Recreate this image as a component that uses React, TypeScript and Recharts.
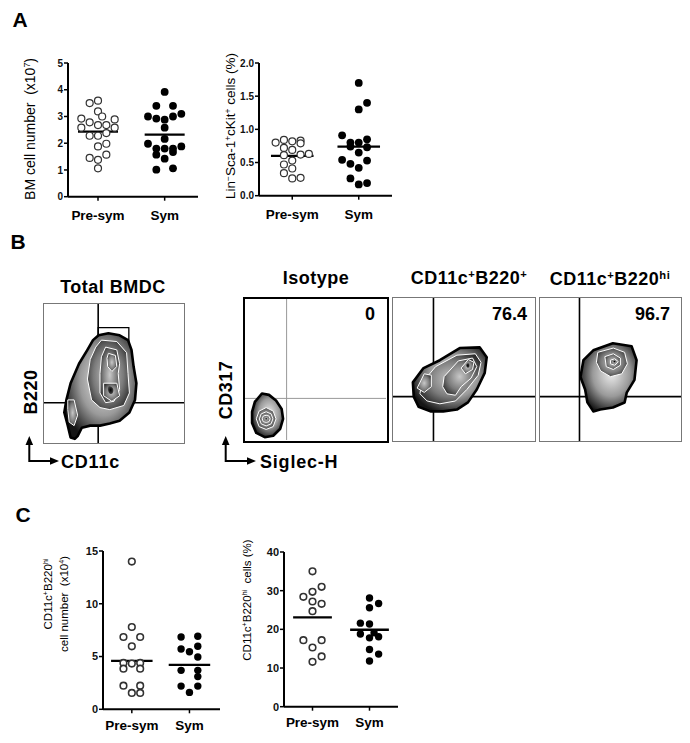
import React from 'react';
import { ScatterChart, Scatter, XAxis, YAxis, ReferenceLine, ReferenceArea } from 'recharts';

const FONT = '"Liberation Sans", Arial, Helvetica, sans-serif';

const groups = ['Pre-sym', 'Sym'];

// ---- Panel A (left): BM cell number (x10^7)
const bmPre = [3.5, 3.59, 3.19, 3.0, 2.92, 2.89, 2.78, 2.68, 2.68, 2.58, 2.58, 2.38, 2.28, 2.28, 1.98, 1.88, 1.57, 1.45, 1.38, 1.06];
const bmPreSlot = [-1, 0, 0, 0.5, -2, 2, -1, 0, 1, -2, 2, 1, -1, 0, 1, 0, 1, -1, 0, 0];
const bmSym = [3.92, 3.4, 3.4, 3.1, 3.0, 2.92, 2.88, 3.0, 2.58, 2.16, 1.98, 1.88, 1.8, 1.8, 1.8, 1.57, 1.67, 1.42, 1.01, 1.06];
const bmSymSlot = [0, -1, 1, 2, -2, -1, 0, 1, 0, 0, -2, 2, -1, 0, 1, -1, 1, 0, -1, 1];
const bmMean = [2.43, 2.32];
const bmTicks = [0, 1, 2, 3, 4, 5];

// ---- Panel A (right): Lin- Sca-1+ cKit+ cells (%)
const lskPre = [0.8, 0.84, 0.82, 0.83, 0.79, 0.72, 0.69, 0.61, 0.62, 0.63, 0.53, 0.47, 0.41, 0.34, 0.26, 0.27];
const lskPreSlot = [-2, -1, 0, 1, 1, -1, 0, -1, 1, 2, 0, -1, 0, -1, 0, 1];
const lskSym = [1.7, 1.4, 1.3, 0.91, 0.8, 0.8, 0.85, 0.74, 0.73, 0.65, 0.54, 0.53, 0.48, 0.42, 0.26, 0.17, 0.19];
const lskSymSlot = [0, 1, 0, -2, -1, 0, 1, -1, 1, 0, -2, 1, -1, 0, -1, 0, 1];
const lskMean = [0.6, 0.74];
const lskTicks = [0, 0.5, 1, 1.5, 2];

// ---- Panel C (left): CD11c+B220hi cell number (x10^4)
const pdcNumPre = [14.0, 7.8, 6.85, 6.85, 5.97, 4.39, 4.33, 4.39, 3.85, 3.85, 2.24, 2.24, 1.55, 1.55];
const pdcNumPreSlot = [0, 0, -1, 1, 0, -1, 0, 1, -1, 1, -1, 1, 0, 1];
const pdcNumSym = [6.85, 6.92, 5.72, 5.97, 5.46, 4.96, 3.69, 3.69, 3.1, 2.2, 2.2, 1.6];
const pdcNumSymSlot = [-1, 1, -1, 1, 0, 1, -1, 1, 1, -1, 1, 0];
const pdcNumMean = [4.58, 4.2];
const pdcNumTicks = [0, 5, 10, 15];

// ---- Panel C (right): CD11c+B220hi cells (%)
const pdcPctPre = [35.0, 31.0, 29.7, 28.4, 27.2, 26.6, 24.7, 17.2, 17.2, 15.3, 13.0, 11.6];
const pdcPctPreSlot = [0, 1, 0, -1, 0, 1, 0, -1, 1, 0, 1, 0];
const pdcPctSym = [28.1, 26.7, 25.6, 21.6, 21.4, 18.8, 17.8, 18.1, 19.1, 14.8, 13.6, 11.8];
const pdcPctSymSlot = [0, 1, 0, -1, 0, -1, 0, 1, 0.5, 0, 1, 0];
const pdcPctMean = [23.1, 19.9];
const pdcPctTicks = [0, 10, 20, 30, 40];

// ---- Panel B: flow cytometry contours (percent of plot range)
const flowTitles = ['Total BMDC', 'Isotype', 'CD11c+B220+', 'CD11c+B220hi'];
const flowPercents = ['', '0', '76.4', '96.7'];
const gateX = [38.7, 29.5, 28.5, 28];
const gateY = [29, 29.5, 31, 31];
const bmdcRectGate = [38.7, 60.6, 53, 83];

const bmdcOuter = [[39, 77.5], [46, 79], [54, 77.5], [60, 74], [62.5, 67], [64, 55], [66, 43], [65, 31], [61, 22], [54, 16], [47, 14], [40, 12.5], [33, 12.5], [27, 11], [24, 5], [22, 3], [19, 4], [17, 12.5], [14.5, 22], [16, 31], [19, 43], [25, 57], [31, 67], [35, 74]];
const bmdcC2 = [[41, 74], [52, 73], [59, 65], [60, 50], [61, 36], [57, 27], [47, 24], [40, 25.5], [34, 31], [31, 46], [33, 60], [37, 69]];
const bmdcC3 = [[44, 69], [52, 67], [54, 57], [53, 50], [54, 38.5], [50, 30], [44, 29], [40, 36], [40, 50], [41, 62]];
const bmdcC4 = [[46, 64.5], [51, 63], [52, 55], [48.5, 51.5], [45.5, 55], [45, 61]];
const bmdcC5 = [[42.6, 43], [52, 43], [54, 34], [48.5, 30], [42.6, 34]];
const bmdcLeft = [[17, 31], [21.5, 31], [24, 20], [21.5, 12.5], [18, 15], [17, 24]];
const bmdcPeak = [[45, 42], [50, 40], [49.5, 35], [46, 35]];

const isoOuter = [[12, 33], [17, 32], [22, 28], [26, 22], [27, 15], [25, 8], [20, 3], [14, 2], [8, 5], [5, 12], [5, 20], [7, 27]];
const isoC2 = [[15, 23], [20, 20.5], [22, 15], [20, 9.5], [15, 7.5], [10, 9.5], [8, 15], [10, 20.5]];
const isoC3 = [[15, 20], [18.5, 18.5], [19.8, 15], [18.5, 11.5], [15, 10], [11.5, 11.5], [10.2, 15], [11.5, 18.5]];
const isoC4 = [[15, 17.5], [17, 17], [17.8, 15], [17, 13], [15, 12.5], [13, 13], [12.2, 15], [13, 17]];
const isoPeak = [[15, 16], [16, 15], [15, 14], [14, 15]];

const b2Outer = [[14, 41], [21.5, 51], [33, 56.5], [47, 65], [61, 65.5], [66, 58.6], [64.6, 47.6], [59, 36], [52.8, 27], [45, 22], [35.4, 20.7], [26.4, 20.7], [18, 24], [14.6, 31]];
const b2C2 = [[20, 40], [30, 52], [45, 60], [58, 61], [62, 55], [60, 46], [52, 36], [44, 28], [33, 26], [24, 28], [19, 33]];
const b2C3 = [[36, 45], [46, 56], [56, 58], [59, 52], [55, 44], [48, 38], [44, 32], [38, 33], [35, 38]];
const b2C4 = [[48, 51], [53, 57], [57, 55], [56, 50], [51, 47]];
const b2Left = [[17, 37], [22, 47], [27, 46], [27, 38], [22, 34]];
const b2Peak = [[51, 54], [54, 55], [54, 51], [52, 51]];

const bhOuter = [[30.8, 56.5], [37.8, 63.4], [51.7, 68.3], [65, 66.2], [68.5, 56.5], [67, 42.8], [61.5, 33.8], [60, 26.9], [51.7, 23.4], [42.7, 22], [37.8, 20.7], [33.6, 27], [32, 36], [28.7, 44.8]];
const bhC2 = [[41, 62], [52, 65], [60, 62], [62, 54], [58, 47], [50, 45], [43, 49], [40, 55]];
const bhC3 = [[46, 59], [52, 61], [57, 58], [57, 53], [52, 50], [47, 52]];
const bhC4 = [[50, 56.5], [53, 57.5], [55.5, 55.5], [53, 53], [50, 54]];
const bhPeak = [[51.5, 56], [53.5, 56.5], [54, 55], [52.5, 54.5]];

const Sup = ({ children }: { children: React.ReactNode }) => (
  <span style={{ fontSize: '0.62em', verticalAlign: '0.55em', lineHeight: 0 }}>{children}</span>
);

function Label({ cx, cy, size, bold, rotate, align, spacing, children }: any) {
  const tx = align === 'left' ? '0' : align === 'right' ? '-100%' : '-50%';
  return (
    <div
      style={{
        position: 'absolute',
        left: cx,
        top: cy,
        transform: rotate ? 'translate(-50%,-50%) rotate(-90deg)' : `translate(${tx},-50%)`,
        fontFamily: FONT,
        fontSize: size,
        fontWeight: bold ? 700 : 400,
        lineHeight: 1,
        whiteSpace: 'nowrap',
        color: '#000',
        letterSpacing: spacing || 0,
      }}
    >
      {children}
    </div>
  );
}

function DotPlot(props: any) {
  const { x, y, w, h, xDomain, yDomain, yTicks, dec, pre, preSlot, sym, symSlot, means, step, half, r, sw, yFont, xMargin } = props;
  const YW = 30, MT = 8, MR = 6, XH = 32;
  const preData = pre.map((v: number, i: number) => ({ x: 1 + preSlot[i] * step, y: v }));
  const symData = sym.map((v: number, i: number) => ({ x: 2 + symSlot[i] * step, y: v }));
  return (
    <div style={{ position: 'absolute', left: x - YW, top: y - MT }}>
      <ScatterChart width={YW + w + MR} height={MT + h + XH} margin={{ top: MT, right: MR, bottom: 0, left: 0 }}>
        <XAxis
          type="number"
          dataKey="x"
          domain={xDomain}
          ticks={[1, 2]}
          interval={0}
          tickFormatter={(v: number) => groups[Math.round(v) - 1]}
          allowDataOverflow
          height={XH}
          axisLine={{ stroke: '#000', strokeWidth: 2 }}
          tickLine={{ stroke: '#000', strokeWidth: 1.5 }}
          tickSize={4}
          tickMargin={xMargin}
          tick={{ fill: '#000', fontSize: 13.5, fontWeight: 700, fontFamily: FONT }}
        />
        <YAxis
          type="number"
          dataKey="y"
          domain={yDomain}
          ticks={yTicks}
          interval={0}
          tickFormatter={(v: number) => v.toFixed(dec)}
          allowDataOverflow
          width={YW}
          axisLine={{ stroke: '#000', strokeWidth: 2 }}
          tickLine={{ stroke: '#000', strokeWidth: 1.5 }}
          tickSize={4}
          tickMargin={1}
          tick={{ fill: '#111', fontSize: yFont, fontWeight: 700, fontFamily: FONT }}
        />
        <Scatter
          data={preData}
          isAnimationActive={false}
          shape={(p: any) => <circle cx={p.cx} cy={p.cy} r={r} fill="#fff" stroke="#333" strokeWidth={sw} />}
        />
        <Scatter
          data={symData}
          isAnimationActive={false}
          shape={(p: any) => <circle cx={p.cx} cy={p.cy} r={r + 0.4} fill="#000" stroke="none" />}
        />
        <ReferenceLine segment={[{ x: 1 - half, y: means[0] }, { x: 1 + half, y: means[0] }]} stroke="#000" strokeWidth={2.3} ifOverflow="visible" />
        <ReferenceLine segment={[{ x: 2 - half, y: means[1] }, { x: 2 + half, y: means[1] }]} stroke="#000" strokeWidth={2.3} ifOverflow="visible" />
      </ScatterChart>
    </div>
  );
}

function FlowPlot(props: any) {
  const { x, y, w, h, bw, bc, gx, gy, gc, gw, contours, peaks, rect } = props;
  const iw = w - 2 * bw, ih = h - 2 * bw;
  const toPts = (c: number[][]) => c.map(([px, py]) => ({ x: px, y: py }));
  return (
    <div style={{ position: 'absolute', left: x, top: y, width: w, height: h, border: `${bw}px solid ${bc}`, boxSizing: 'border-box' }}>
      <ScatterChart width={iw} height={ih} margin={{ top: 0, right: 0, bottom: 0, left: 0 }}>
        <XAxis type="number" dataKey="x" domain={[0, 100]} hide allowDataOverflow />
        <YAxis type="number" dataKey="y" domain={[0, 100]} hide allowDataOverflow />
        {contours.map((c: number[][], i: number) => (
          <Scatter
            key={'c' + i}
            data={toPts(c)}
            isAnimationActive={false}
            line={i === 0
              ? { stroke: '#000', strokeWidth: 2.6, strokeLinejoin: 'round', fill: 'url(#zebraOuter)' }
              : { stroke: '#fff', strokeWidth: 1, strokeLinejoin: 'round', fill: 'url(#zebra)' }}
            lineType="joint"
            lineJointType="linearClosed"
            shape={() => <g />}
          />
        ))}
        {peaks.map((c: number[][], i: number) => (
          <Scatter
            key={'p' + i}
            data={toPts(c)}
            isAnimationActive={false}
            line={{ stroke: 'none', strokeWidth: 0, fill: 'url(#peak)' }}
            lineType="joint"
            lineJointType="basisClosed"
            shape={() => <g />}
          />
        ))}
        <ReferenceLine x={gx} stroke={gc} strokeWidth={gw} ifOverflow="visible" />
        <ReferenceLine y={gy} stroke={gc} strokeWidth={gw} ifOverflow="visible" />
        {rect && (
          <ReferenceArea x1={rect[0]} x2={rect[1]} y1={rect[2]} y2={rect[3]} fill="none" fillOpacity={0} stroke="#000" strokeWidth={1.3} strokeOpacity={1} ifOverflow="visible" />
        )}
      </ScatterChart>
    </div>
  );
}

export default function App() {
  return (
    <div style={{ position: 'absolute', left: 0, top: 0, width: 690, height: 743, background: '#fff', overflow: 'hidden' }}>
      <svg width={690} height={743} style={{ position: 'absolute', left: 0, top: 0 }}>
        <defs>
          <radialGradient id="zebraOuter" cx="55%" cy="45%" r="60%">
            <stop offset="0%" stopColor="#ececec" />
            <stop offset="55%" stopColor="#9a9a9a" />
            <stop offset="100%" stopColor="#151515" />
          </radialGradient>
          <radialGradient id="zebra" cx="50%" cy="50%" r="60%">
            <stop offset="0%" stopColor="#c8c8c8" />
            <stop offset="60%" stopColor="#7a7a7a" />
            <stop offset="100%" stopColor="#2a2a2a" />
          </radialGradient>
          <radialGradient id="peak" cx="50%" cy="50%" r="50%">
            <stop offset="0%" stopColor="#000" />
            <stop offset="100%" stopColor="#444" />
          </radialGradient>
        </defs>
        {/* axis arrows */}
        <path d="M29.3 444 V461 H52" fill="none" stroke="#000" strokeWidth={2} />
        <polygon points="29.3,436 25.5,445 33.1,445" fill="#000" />
        <polygon points="59,461 50,457.2 50,464.8" fill="#000" />
        <path d="M225.7 444 V461 H249" fill="none" stroke="#000" strokeWidth={2} />
        <polygon points="225.7,436 221.9,445 229.5,445" fill="#000" />
        <polygon points="256,461 247,457.2 247,464.8" fill="#000" />
      </svg>

      {/* Panel letters */}
      <Label cx={20} cy={18.5} size={21} bold>A</Label>
      <Label cx={18} cy={241} size={21} bold>B</Label>
      <Label cx={23} cy={514} size={21} bold>C</Label>

      {/* Panel A */}
      <Label cx={30} cy={129} size={14} rotate>BM cell number&nbsp;&nbsp;(x10<Sup>7</Sup>)</Label>
      <Label cx={231} cy={126} size={13.5} rotate>Lin<Sup>−</Sup>Sca-1<Sup>+</Sup>cKit<Sup>+</Sup> cells (%)</Label>
      <DotPlot x={68} y={63.3} w={130} h={133.7} xDomain={[0.55, 2.5]} yDomain={[0, 5]} yTicks={bmTicks} dec={0} xMargin={10}
        pre={bmPre} preSlot={bmPreSlot} sym={bmSym} symSlot={bmSymSlot} means={bmMean} step={0.125} half={0.3} r={3.5} sw={1.2} yFont={10} />
      <DotPlot x={259} y={63.3} w={133} h={132.7} xDomain={[0.5, 2.5]} yDomain={[0, 2]} yTicks={lskTicks} dec={1} xMargin={10}
        pre={lskPre} preSlot={lskPreSlot} sym={lskSym} symSlot={lskSymSlot} means={lskMean} step={0.125} half={0.32} r={3.5} sw={1.2} yFont={10} />

      {/* Panel B */}
      <Label cx={113} cy={286.5} size={18} bold spacing={0.5}>{flowTitles[0]}</Label>
      <Label cx={316} cy={278} size={18} bold spacing={0.5}>{flowTitles[1]}</Label>
      <Label cx={469} cy={278} size={18} bold spacing={0.5}>CD11c<Sup>+</Sup>B220<Sup>+</Sup></Label>
      <Label cx={610} cy={279} size={18} bold spacing={0.5}>CD11c<Sup>+</Sup>B220<Sup>hi</Sup></Label>

      <FlowPlot x={43} y={303} w={142} h={141} bw={1} bc="#777" gx={gateX[0]} gy={gateY[0]} gc="#000" gw={1.6}
        contours={[bmdcOuter, bmdcC2, bmdcC3, bmdcC4, bmdcC5, bmdcLeft]} peaks={[bmdcPeak]} rect={bmdcRectGate} />
      <FlowPlot x={243} y={297} w={146} h={146} bw={2.5} bc="#000" gx={gateX[1]} gy={gateY[1]} gc="#999" gw={1}
        contours={[isoOuter, isoC2, isoC3, isoC4]} peaks={[isoPeak]} />
      <FlowPlot x={392} y={297} w={144} h={145} bw={1} bc="#777" gx={gateX[2]} gy={gateY[2]} gc="#000" gw={1.6}
        contours={[b2Outer, b2C2, b2C3, b2C4, b2Left]} peaks={[b2Peak]} />
      <FlowPlot x={539} y={297} w={143} h={145} bw={1} bc="#777" gx={gateX[3]} gy={gateY[3]} gc="#000" gw={1.6}
        contours={[bhOuter, bhC2, bhC3, bhC4]} peaks={[bhPeak]} />

      <Label cx={375} cy={314} size={18} bold align="right">{flowPercents[1]}</Label>
      <Label cx={527} cy={314} size={18} bold align="right">{flowPercents[2]}</Label>
      <Label cx={670} cy={314} size={18} bold align="right">{flowPercents[3]}</Label>

      <Label cx={31} cy={392} size={18} bold rotate spacing={0.5}>B220</Label>
      <Label cx={226} cy={390} size={18} bold rotate spacing={0.5}>CD317</Label>
      <Label cx={61} cy={461.5} size={18} bold align="left" spacing={0.8}>CD11c</Label>
      <Label cx={260} cy={461.5} size={18} bold align="left" spacing={0.8}>Siglec-H</Label>

      {/* Panel C */}
      <Label cx={49} cy={594} size={11.5} rotate>CD11c<Sup>+</Sup>B220<Sup>hi</Sup></Label>
      <Label cx={65} cy={604} size={11.5} rotate>cell number&nbsp;&nbsp;(x10<Sup>4</Sup>)</Label>
      <Label cx={248} cy={600} size={11.5} rotate>CD11c<Sup>+</Sup>B220<Sup>hi</Sup>&nbsp;&nbsp;cells (%)</Label>
      <DotPlot x={103} y={550.7} w={117} h={158.3} xDomain={[0.5, 2.53]} yDomain={[0, 15]} yTicks={pdcNumTicks} dec={0} xMargin={7}
        pre={pdcNumPre} preSlot={pdcNumPreSlot} sym={pdcNumSym} symSlot={pdcNumSymSlot} means={pdcNumMean} step={0.145} half={0.36} r={3.3} sw={1.6} yFont={11} />
      <DotPlot x={284} y={552} w={114} h={154.7} xDomain={[0.5, 2.5]} yDomain={[0, 40]} yTicks={pdcPctTicks} dec={0} xMargin={7}
        pre={pdcPctPre} preSlot={pdcPctPreSlot} sym={pdcPctSym} symSlot={pdcPctSymSlot} means={pdcPctMean} step={0.16} half={0.34} r={3.3} sw={1.6} yFont={11} />
    </div>
  );
}
